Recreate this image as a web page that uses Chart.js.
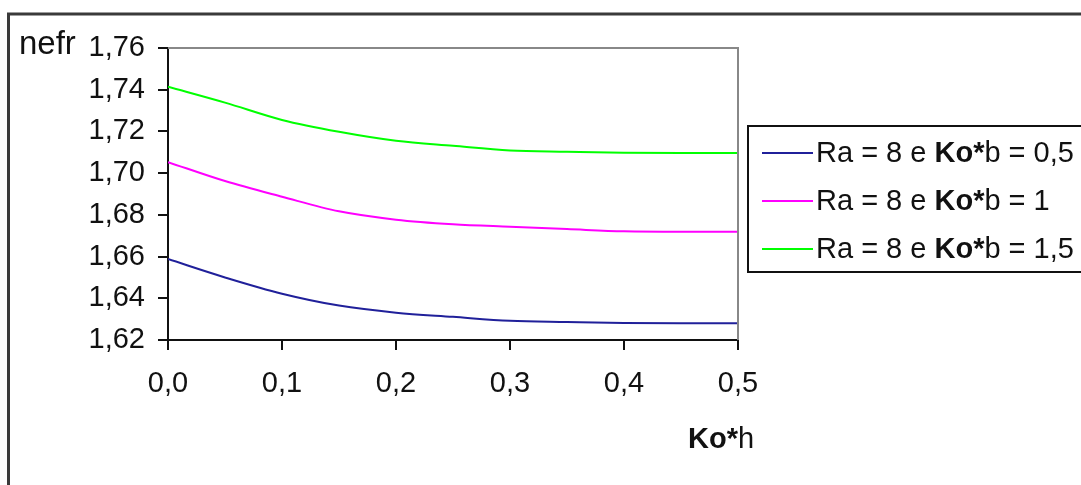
<!DOCTYPE html>
<html>
<head>
<meta charset="utf-8">
<script src="https://cdn.jsdelivr.net/npm/chart.js@4.4.1/dist/chart.umd.min.js"></script>
<style>
  html, body { margin: 0; padding: 0; background: #ffffff; }
  #wrap { position: relative; width: 1081px; height: 485px; }
</style>
</head>
<body>
<div id="wrap"><canvas id="c"></canvas></div>
<script>
// ---- data ----
const xValues = [0, 0.05, 0.1, 0.15, 0.2, 0.25, 0.3, 0.35, 0.4, 0.45, 0.5];
const seriesLabels = ['Ra = 8 e Ko*b = 0,5', 'Ra = 8 e Ko*b = 1', 'Ra = 8 e Ko*b = 1,5'];
const nefrKob05 = [1.6588, 1.6500, 1.6422, 1.6365, 1.6331, 1.6311, 1.6292, 1.6286, 1.6281, 1.6280, 1.6280];
const nefrKob1  = [1.7053, 1.6962, 1.6887, 1.6817, 1.6777, 1.6755, 1.6743, 1.6732, 1.6721, 1.6719, 1.6719];
const nefrKob15 = [1.7414, 1.7338, 1.7255, 1.7198, 1.7155, 1.7131, 1.7109, 1.7103, 1.7098, 1.7097, 1.7097];
const yTickLabels = ['1,62', '1,64', '1,66', '1,68', '1,70', '1,72', '1,74', '1,76'];
const xTickLabels = ['0,0', '0,1', '0,2', '0,3', '0,4', '0,5'];
const yAxisTitle = 'nefr';
const xAxisTitle = 'Ko*h';
const seriesColors = ['#20209a', '#ff00ff', '#00ff00'];

const FONT = '"Liberation Sans", Arial, sans-serif';
const yMin = 1.62, yStep = 0.02, xMin = 0, xStep = 0.1;

function toPoints(ys) { return xValues.map((x, i) => ({ x: x, y: ys[i] })); }
const seriesValues = [nefrKob05, nefrKob1, nefrKob15];

// draw text where "Ko*" is bold
function drawMixed(ctx, text, x, y, size) {
  const parts = text.split('Ko*');
  let cx = x;
  parts.forEach((p, i) => {
    if (i > 0) {
      ctx.font = 'bold ' + size + 'px ' + FONT;
      ctx.fillText('Ko*', cx, y);
      cx += ctx.measureText('Ko*').width;
    }
    ctx.font = size + 'px ' + FONT;
    ctx.fillText(p, cx, y);
    cx += ctx.measureText(p).width;
  });
}

const decor = {
  id: 'decor',
  beforeDraw(chart) {
    const ctx = chart.ctx;
    ctx.save();
    ctx.strokeStyle = '#3a3a3a';
    ctx.lineWidth = 3;
    ctx.beginPath();
    ctx.moveTo(8.5, 485);
    ctx.lineTo(8.5, 14);
    ctx.lineTo(1081, 14);
    ctx.stroke();
    ctx.restore();
  },
  afterDatasetsDraw(chart) {
    const ctx = chart.ctx;
    const a = chart.chartArea;
    ctx.save();
    ctx.strokeStyle = '#888888';
    ctx.lineWidth = 2;
    ctx.beginPath();
    ctx.moveTo(a.left, a.top);
    ctx.lineTo(a.right, a.top);
    ctx.lineTo(a.right, a.bottom);
    ctx.stroke();
    ctx.restore();
  },
  afterDraw(chart) {
    const ctx = chart.ctx;
    ctx.save();
    ctx.fillStyle = '#111111';
    ctx.textBaseline = 'middle';
    ctx.textAlign = 'left';
    ctx.font = '33px ' + FONT;
    ctx.fillText(yAxisTitle, 19, 45);
    drawMixed(ctx, xAxisTitle, 688, 440, 29);
    // legend box
    ctx.strokeStyle = '#111111';
    ctx.lineWidth = 2;
    ctx.strokeRect(748, 126, 360, 146);
    chart.data.datasets.forEach((ds, i) => {
      const y = 153 + i * 48;
      ctx.strokeStyle = ds.borderColor;
      ctx.lineWidth = 2;
      ctx.beginPath();
      ctx.moveTo(762, y);
      ctx.lineTo(813, y);
      ctx.stroke();
      ctx.fillStyle = '#111111';
      drawMixed(ctx, ds.label, 816, y + 1, 29);
    });
    ctx.restore();
  }
};

new Chart(document.getElementById('c'), {
  type: 'line',
  data: {
    datasets: seriesValues.map((vals, i) => ({
      label: seriesLabels[i],
      data: toPoints(vals),
      borderColor: seriesColors[i],
      backgroundColor: seriesColors[i],
      borderWidth: 2,
      pointRadius: 0,
      cubicInterpolationMode: 'monotone',
      fill: false
    }))
  },
  options: {
    responsive: true,
    maintainAspectRatio: false,
    animation: false,
    layout: { padding: { top: 48, right: 343, left: 0, bottom: 0 } },
    plugins: { legend: { display: false }, tooltip: { enabled: false } },
    scales: {
      x: {
        type: 'linear',
        min: 0, max: 0.5,
        afterFit(s) { s.height = 145; },
        ticks: {
          stepSize: 0.1,
          color: '#111111',
          font: { family: FONT, size: 29 },
          padding: 17,
          maxRotation: 0,
          callback: (v) => xTickLabels[Math.round((v - xMin) / xStep)]
        },
        grid: { drawOnChartArea: false, drawTicks: true, tickLength: 10, color: '#111111', lineWidth: 2 },
        border: { display: true, color: '#111111', width: 2 }
      },
      y: {
        type: 'linear',
        min: 1.62, max: 1.76,
        afterFit(s) { s.width = 168; },
        ticks: {
          stepSize: 0.02,
          color: '#111111',
          font: { family: FONT, size: 29 },
          padding: 13,
          callback: (v) => yTickLabels[Math.round((v - yMin) / yStep)]
        },
        grid: { drawOnChartArea: false, drawTicks: true, tickLength: 10, color: '#111111', lineWidth: 2 },
        border: { display: true, color: '#111111', width: 2 }
      }
    }
  },
  plugins: [decor]
});
</script>
</body>
</html>
